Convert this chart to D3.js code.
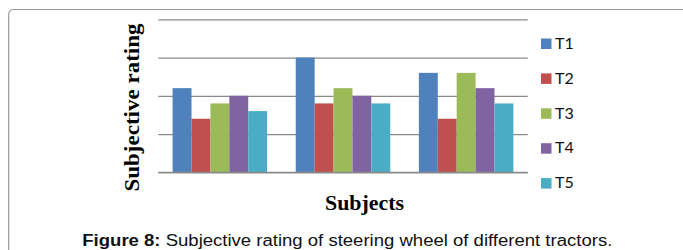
<!DOCTYPE html>
<html>
<head>
<meta charset="utf-8">
<script src="https://cdn.jsdelivr.net/npm/d3@7"></script>
<style>
  html, body { margin: 0; padding: 0; background: #fff; }
  svg { display: block; }
</style>
</head>
<body>
<svg id="chart" width="683" height="250"></svg>
<script>
// ---- data ----
const categories = ["Subject 1", "Subject 2", "Subject 3"];
const seriesNames = ["T1", "T2", "T3", "T4", "T5"];
const T1 = [2.2, 3.0, 2.6];
const T2 = [1.4, 1.8, 1.4];
const T3 = [1.8, 2.2, 2.6];
const T4 = [2.0, 2.0, 2.2];
const T5 = [1.6, 1.8, 1.8];
const yTicks = [0, 1, 2, 3, 4];
const seriesValues = [T1, T2, T3, T4, T5];
const colors = ["#4F81BD", "#C0504D", "#9BBB59", "#8064A2", "#4BACC6"];

const svg = d3.select("#chart");

// frame
svg.append("path")
  .attr("d", "M8.7,700 L8.7,14.5 Q8.7,9.5 13.7,9.5 L700,9.5")
  .attr("fill", "none").attr("stroke", "#9a9a9a").attr("stroke-width", 1.2);

const x = d3.scaleBand().domain(categories).range([158.3, 527.7]).paddingInner(0).paddingOuter(0);
const xs = d3.scaleBand().domain(seriesNames).range([0, x.bandwidth()]).paddingInner(0).paddingOuter(0.757);
const y = d3.scaleLinear().domain([0, 4]).range([172.3, 19.3]);

// gridlines
const grid = d3.axisLeft(y).tickValues(yTicks).tickSize(-(527.7 - 158.3)).tickFormat("");
const g = svg.append("g").attr("transform", "translate(158.3,0)").call(grid);
g.select(".domain").remove();
g.selectAll(".tick line").attr("stroke", "#8a8a8a").attr("stroke-width", 1.3);

// bars
const data = [];
categories.forEach((c, ci) => seriesNames.forEach((s, si) => data.push({c, s, v: seriesValues[si][ci], si})));
svg.append("g").selectAll("rect").data(data).join("rect")
  .attr("x", d => x(d.c) + xs(d.s))
  .attr("width", xs.bandwidth())
  .attr("y", d => y(d.v))
  .attr("height", d => y(0) - y(d.v))
  .attr("fill", d => colors[d.si]);

// redraw baseline on top
svg.append("line").attr("x1", 158.3).attr("x2", 527.7).attr("y1", y(0)).attr("y2", y(0))
  .attr("stroke", "#8a8a8a").attr("stroke-width", 1.3);

// legend
const leg = svg.append("g").selectAll("g").data(seriesNames).join("g")
  .attr("transform", (d, i) => `translate(541,${38.5 + i * 34.9})`);
leg.append("rect").attr("width", 10.5).attr("height", 10.5).attr("fill", (d, i) => colors[i]);
leg.append("text").attr("x", 14).attr("y", 10.2).text(d => d)
  .attr("font-family", "Lato, 'Open Sans', sans-serif").attr("font-size", 16).attr("fill", "#111");

// axis titles
svg.append("text")
  .attr("transform", "translate(138.5,107.5) rotate(-90)")
  .attr("text-anchor", "middle")
  .attr("font-family", "'Liberation Serif', 'Times New Roman', serif")
  .attr("font-weight", "bold").attr("font-size", 22)
  .attr("textLength", 168).attr("lengthAdjust", "spacingAndGlyphs")
  .text("Subjective rating");

svg.append("text")
  .attr("x", 364.5).attr("y", 210).attr("text-anchor", "middle")
  .attr("font-family", "'Liberation Serif', 'Times New Roman', serif")
  .attr("font-weight", "bold").attr("font-size", 20)
  .attr("textLength", 79).attr("lengthAdjust", "spacingAndGlyphs")
  .text("Subjects");

// caption
const cap = svg.append("text")
  .attr("x", 82.3).attr("y", 245.5)
  .attr("font-family", "'Liberation Sans', Arial, sans-serif").attr("font-size", 16).attr("fill", "#111")
  .attr("textLength", 530).attr("lengthAdjust", "spacingAndGlyphs");
cap.append("tspan").attr("font-weight", "bold").text("Figure 8:");
cap.append("tspan").text(" Subjective rating of steering wheel of different tractors.");
</script>
</body>
</html>
